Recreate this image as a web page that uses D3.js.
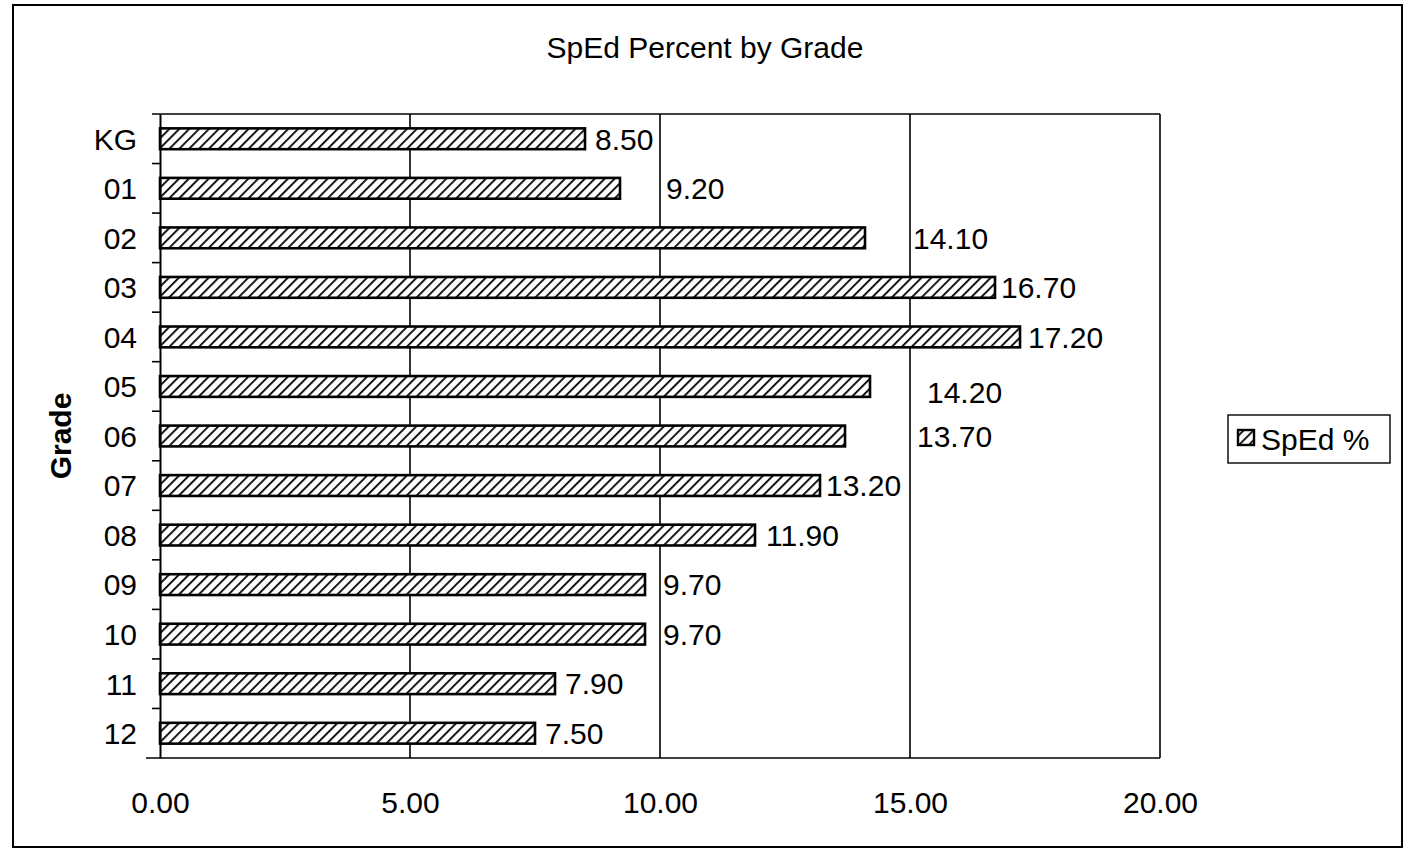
<!DOCTYPE html>
<html><head><meta charset="utf-8">
<script src="https://cdn.jsdelivr.net/npm/d3@7/dist/d3.min.js"></script>
<style>body{margin:0;background:#fff}svg{display:block}text{font-family:"Liberation Sans",Arial,sans-serif;fill:#000}</style>
</head><body>
<svg id="c" width="1408" height="850"></svg>
<script>
const grades = ["KG","01","02","03","04","05","06","07","08","09","10","11","12"];
const spedPct = [8.5,9.2,14.1,16.7,17.2,14.2,13.7,13.2,11.9,9.7,9.7,7.9,7.5];
const xTicks = [0,5,10,15,20];
const seriesName = "SpEd %";
const chartTitle = "SpEd Percent by Grade";
const axisTitle = "Grade";

// layout (label nudges as placed in the original)
const labelGap = [10,46,48,6,8,57,72,6,11,18,18,10,10];
const labelDy = [0,0,0,0,0,6,0,0,0,0,0,0,0];
const FS = 30;

const svg = d3.select("#c");
const M = {l:160, r:1160, t:114, b:758};

const defs = svg.append("defs");
const pat = defs.append("pattern").attr("id","hatch").attr("patternUnits","userSpaceOnUse")
  .attr("width",7).attr("height",7).attr("patternTransform","rotate(45)");
pat.append("rect").attr("width",7).attr("height",7).attr("fill","#fff");
pat.append("line").attr("x1",0).attr("y1",0).attr("x2",0).attr("y2",7).attr("stroke","#000").attr("stroke-width",3.6);

// outer border
svg.append("rect").attr("x",13).attr("y",5).attr("width",1389).attr("height",842)
  .attr("fill","none").attr("stroke","#000").attr("stroke-width",2);

const x = d3.scaleLinear().domain([0,20]).range([M.l,M.r]);
const y = d3.scaleBand().domain(grades).range([M.t,M.b]).paddingInner(0.58).paddingOuter(0.29);

// gridlines
svg.append("g").selectAll("line").data(xTicks.filter(d=>d>0)).join("line")
  .attr("x1",d=>x(d)).attr("x2",d=>x(d)).attr("y1",M.t).attr("y2",M.b)
  .attr("stroke","#000").attr("stroke-width",1.6);
// plot border top
svg.append("line").attr("x1",M.l-8).attr("x2",M.r).attr("y1",M.t).attr("y2",M.t).attr("stroke","#000").attr("stroke-width",1.6);

// bars
svg.append("g").selectAll("rect").data(spedPct).join("rect")
  .attr("x",x(0)).attr("y",(d,i)=>y(grades[i]))
  .attr("width",d=>x(d)-x(0)).attr("height",y.bandwidth())
  .attr("fill","url(#hatch)").attr("stroke","#000").attr("stroke-width",2.6);

// value labels
svg.append("g").selectAll("text").data(spedPct).join("text")
  .attr("x",(d,i)=>x(d)+labelGap[i]).attr("y",(d,i)=>y(grades[i])+y.bandwidth()/2+labelDy[i])
  .attr("dy","0.36em").attr("font-size",FS).text(d=>d3.format(".2f")(d));

// y axis
const yAxis = d3.axisLeft(y).tickSize(0).tickPadding(23);
const gy = svg.append("g").attr("transform",`translate(${M.l},0)`).call(yAxis);
gy.select(".domain").attr("stroke","#000").attr("stroke-width",2);
gy.selectAll(".tick text").attr("font-size",FS).attr("font-family","Liberation Sans, Arial, sans-serif").attr("dy","0.36em");
// category separator ticks
const bounds = grades.slice(1).map(g=>y(g)-y.step()*y.paddingInner()/2);
svg.append("g").selectAll("line").data(bounds).join("line")
  .attr("x1",M.l-8).attr("x2",M.l).attr("y1",d=>d).attr("y2",d=>d).attr("stroke","#000").attr("stroke-width",1.6);

// x axis
const xAxis = d3.axisBottom(x).tickValues(xTicks).tickSize(0).tickPadding(34).tickFormat(d3.format(".2f"));
const gx = svg.append("g").attr("transform",`translate(0,${M.b})`).call(xAxis);
gx.select(".domain").remove();
svg.append("line").attr("x1",M.l-14).attr("x2",M.r).attr("y1",M.b).attr("y2",M.b).attr("stroke","#000").attr("stroke-width",1.6);
gx.selectAll(".tick text").attr("font-size",FS).attr("font-family","Liberation Sans, Arial, sans-serif");

// titles
svg.append("text").attr("x",705).attr("y",58).attr("text-anchor","middle").attr("font-size",FS).text(chartTitle);
svg.append("text").attr("transform","translate(71,436) rotate(-90)").attr("text-anchor","middle")
  .attr("font-size",FS).attr("font-weight","bold").text(axisTitle);

// legend
const lg = svg.append("g").attr("transform","translate(1228,415)");
lg.append("rect").attr("width",162).attr("height",48).attr("fill","#fff").attr("stroke","#000").attr("stroke-width",1.4);
lg.append("rect").attr("x",10).attr("y",15).attr("width",16).attr("height",15).attr("fill","url(#hatch)").attr("stroke","#000").attr("stroke-width",2.4);
lg.append("text").attr("x",33).attr("y",24).attr("dy","0.36em").attr("font-size",FS).text(seriesName);
</script>
</body></html>
